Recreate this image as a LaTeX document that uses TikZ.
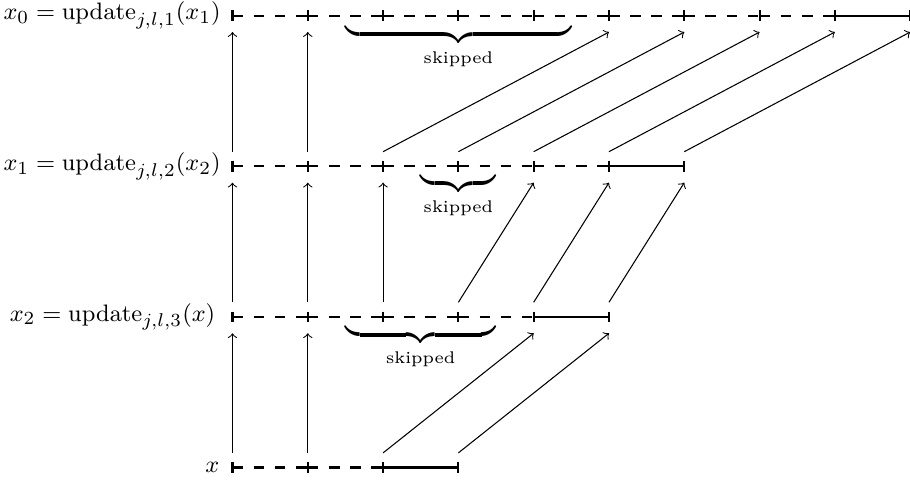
\documentclass[tikz,border=0pt]{standalone}
\usepackage{amsmath}
\usetikzlibrary{calc}
\newcommand\skiptextfont{\fontsize{6.4}{7}\selectfont}
\begin{document}
\begin{tikzpicture}[
  seg/.style={thick},
  dseg/.style={thick, dash pattern=on 4pt off 4pt},
  tickmark/.style={thick},
  arr/.style={->},
  lbl/.style={left, font=\fontsize{9.4}{11}\selectfont},
  skipbrace/.style={inner sep=0pt, anchor=north, font=\fontsize{12.5}{15}\selectfont}
]
\useasboundingbox (-87.85pt,-7pt) rectangle (256.01pt,176.64pt);
% tick coordinates
\foreach \i in {0,...,3} \coordinate (x\i) at (\i,0);
\foreach \i in {0,...,5} \coordinate (p\i) at (\i,2);
\foreach \i in {0,...,6} \coordinate (q\i) at (\i,4);
\foreach \i in {0,...,9} \coordinate (r\i) at (\i,6);
% lines
\foreach \i/\j in {0/1,1/2} \draw[dseg] (x\i) -- (x\j);
\draw[seg] (x2) -- (x3);
\foreach \i/\j in {0/1,1/2,2/3,3/4} \draw[dseg] (p\i) -- (p\j);
\draw[seg] (p4) -- (p5);
\foreach \i/\j in {0/1,1/2,2/3,3/4,4/5} \draw[dseg] (q\i) -- (q\j);
\draw[seg] (q5) -- (q6);
\foreach \i/\j in {0/1,1/2,2/3,3/4,4/5,5/6,6/7,7/8} \draw[dseg] (r\i) -- (r\j);
\draw[seg] (r8) -- (r9);
% ticks
\foreach \n/\m in {x/3,p/5,q/6,r/9}
  \foreach \i in {0,...,\m}
    \draw[tickmark] ([yshift=2pt]\n\i) -- ([yshift=-2pt]\n\i);
% labels
\node[lbl, xshift=-1.5pt] (lx) at (x0) {$x$};
\node[lbl, xshift=-3pt] (lp) at (p0) {$x_2 = \mathrm{update}_{j,l,3}(x)$};
\node[lbl, xshift=-0.9pt] (lq) at (q0) {$x_1 = \mathrm{update}_{j,l,2}(x_2)$};
\node[lbl, xshift=-0.9pt] (lr) at (r0) {$x_0 = \mathrm{update}_{j,l,1}(x_1)$};
% arrows
\foreach \s/\t in {x0/p0,x1/p1,x2/p4,x3/p5,
                   p0/q0,p1/q1,p2/q2,p3/q4,p4/q5,p5/q6,
                   q0/r0,q1/r1,q2/r5,q3/r6,q4/r7,q5/r8,q6/r9}
  \draw[arr] ([yshift=5.5pt]\s) -- ([yshift=-6.2pt]\t);
% braces
\node[skipbrace,yshift=-3.1pt] (s0) at ($(r1)!0.5!(r5)$) {$\underbrace{\hspace{3cm}}_{\text{\skiptextfont skipped}}$};
\node[skipbrace,yshift=-2.5pt] (s1) at (q3) {$\underbrace{\hspace{1cm}}_{\text{\skiptextfont skipped}}$};
\node[skipbrace,yshift=-2.9pt] (s2) at ($(p2)!0.5!(p3)$) {$\underbrace{\hspace{2cm}}_{\text{\skiptextfont skipped}}$};
\end{tikzpicture}
\end{document}
